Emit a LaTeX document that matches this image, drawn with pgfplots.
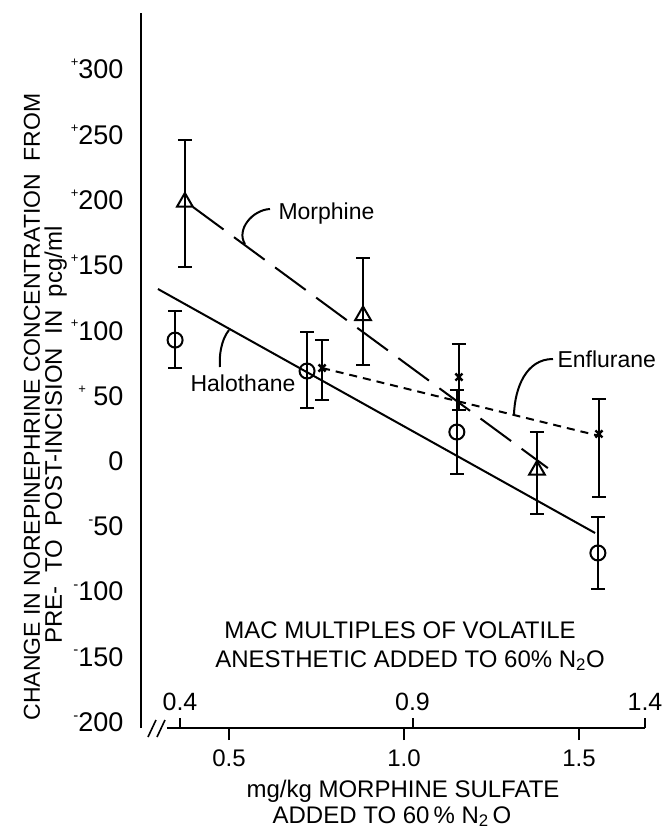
\documentclass[border=0pt]{standalone}
\usepackage{fontspec}
\setmainfont{Liberation Sans}
\usepackage{pgfplots}
\usepackage{pgfplotstable}
\pgfplotsset{compat=1.18}
\newcommand{\ps}{\raisebox{0.45em}{\fontsize{13}{13}\selectfont +}}
\newcommand{\ms}{\raisebox{0.42em}{\fontsize{15}{15}\selectfont -}}
\pgfplotstableread{
x y ep em
0.374 198.3 47.5 49.8
0.883 111.4 44.0 37.9
1.380 -6.9 29.1 33.7
}\morphine
\pgfplotstableread{
x y ep em
0.346 92.6 22.3 21.4
0.723 68.9 29.9 28.3
1.151 22.2 32.0 32.2
1.554 -70.4 27.5 27.6
}\halothane
\pgfplotstableread{
x y ep em
0.766 71.2 21.4 24.5
1.157 64.3 25.3 25.0
1.557 20.7 26.8 48.3
}\enflurane
\pgfplotsset{errstyle/.style={draw=none, mark=none,
  error bars/.cd, y dir=both, y explicit,
  error bar style={line width=2pt, solid},
  error mark=|,
  error mark options={solid, mark size=7pt, line width=2pt}}}
\begin{document}
\begin{tikzpicture}
% main axis: mg/kg morphine sulfate
\begin{axis}[
  scale only axis, width=504pt, height=715pt,
  xmin=0.2486, xmax=1.6886, ymin=-204.4, ymax=343,
  axis x line=bottom, axis y line=left,
  axis line style={-, line width=2pt},
  x axis line style={draw=none},
  xtick={0.5,1.0,1.5}, xticklabels={0.5,1.0,1.5},
  xtick style={line width=2pt, black},
  major tick length=12pt, tick align=outside,
  xticklabel style={font=\fontsize{24}{24}\selectfont, anchor=north, yshift=-6pt},
  ytick={-200,-150,-100,-50,0,50,100,150,200,250,300},
  yticklabels={\ms 200,\ms 150,\ms 100,\ms 50,0,\ps\ 50,\ps 100,\ps 150,\ps 200,\ps 250,\ps 300},
  ytick style={draw=none},
  yticklabel style={font=\fontsize{27}{27}\selectfont, anchor=east, xshift=-2pt},
  clip=false,
]
% fitted lines
\addplot[line width=2pt] coordinates {(0.297,131.7) (1.546,-55.1)};
\addplot[line width=2pt, dash pattern=on 38pt off 13pt] coordinates {(0.397,194.5) (1.411,-5.4)};
\addplot[line width=2pt, dash pattern=on 8pt off 6pt] coordinates {(0.766,71.2) (1.560,19.1)};
% error bars
\addplot[errstyle] table[x=x, y=y, y error plus=ep, y error minus=em] {\morphine};
\addplot[errstyle] table[x=x, y=y, y error plus=ep, y error minus=em] {\halothane};
\addplot[errstyle] table[x=x, y=y, y error plus=ep, y error minus=em] {\enflurane};
% markers on top
\addplot[only marks, mark=triangle, mark size=9pt,
  mark options={solid, fill=white, line width=2pt}]
  table[x=x, y=y] {\morphine};
\addplot[only marks, mark=o, mark size=7.5pt,
  mark options={solid, fill=white, line width=2pt}]
  table[x=x, y=y] {\halothane};
\addplot[only marks, mark=x, mark size=5pt,
  mark options={solid, line width=2.4pt}]
  table[x=x, y=y] {\enflurane};
\end{axis}
% second scale: MAC multiples
\begin{axis}[
  scale only axis, width=504pt, height=715pt,
  xmin=0.3161, xmax=1.4, ymin=0, ymax=1,
  axis x line=bottom, axis y line=none,
  axis line style={-},
  x axis line style={draw=none},
  xtick={0.4,0.9,1.4}, xticklabels={0.4,0.9,1.4},
  xtick style={line width=2pt, black},
  major tick length=10pt, tick align=inside,
  xticklabel style={font=\fontsize{25}{25}\selectfont, anchor=base, yshift=18pt},
]
\end{axis}
% axis line with break
\draw[line width=2pt] (26pt,0pt) -- (504pt,0pt);
\draw[line width=1.6pt] (7pt,-9pt) -- (15pt,8pt);
\draw[line width=1.6pt] (16pt,-9pt) -- (24pt,8pt);
% labels
\node[rotate=90, anchor=base, font=\fontsize{23}{23}\selectfont] at (-101pt,321pt)
  {CHANGE IN NOREPINEPHRINE CONCENTRATION\ \ FROM};
\node[rotate=90, anchor=base, font=\fontsize{24}{24}\selectfont] at (-79pt,293pt)
  {PRE-\ \ TO\ \ POST-INCISION\ \ IN\ \ pcg/ml};
\node[anchor=base, font=\fontsize{24}{24}\selectfont] at (259pt,90pt) {MAC MULTIPLES OF VOLATILE};
\node[anchor=base, font=\fontsize{24}{24}\selectfont] at (269pt,61pt) {ANESTHETIC ADDED TO 60\% N\textsubscript{2}O};
\node[anchor=base, font=\fontsize{24}{24}\selectfont] at (262pt,-69pt) {mg/kg MORPHINE SULFATE};
\node[anchor=base, font=\fontsize{24}{24}\selectfont] at (251pt,-95pt) {ADDED TO 60\,\% N\textsubscript{2}\,O};
\node[anchor=base west, font=\fontsize{23}{23}\selectfont] at (134pt,508pt) {Morphine};
\node[anchor=base west, font=\fontsize{23}{23}\selectfont] at (46pt,336pt) {Halothane};
\node[anchor=base west, font=\fontsize{23}{23}\selectfont] at (413pt,360pt) {Enflurane};
% leaders
\draw[line width=2pt] (129pt,519pt) .. controls (111pt,518pt) and (95pt,498pt) .. (104pt,484pt);
\draw[line width=2pt] (88pt,398pt) .. controls (80pt,388pt) and (78pt,372pt) .. (79pt,361pt);
\draw[line width=2pt] (373pt,314pt) .. controls (374pt,340pt) and (385pt,369pt) .. (412pt,369pt);
\pgfresetboundingbox
\path[use as bounding box] (-141pt,-103pt) rectangle (523pt,728pt);
\end{tikzpicture}
\end{document}
